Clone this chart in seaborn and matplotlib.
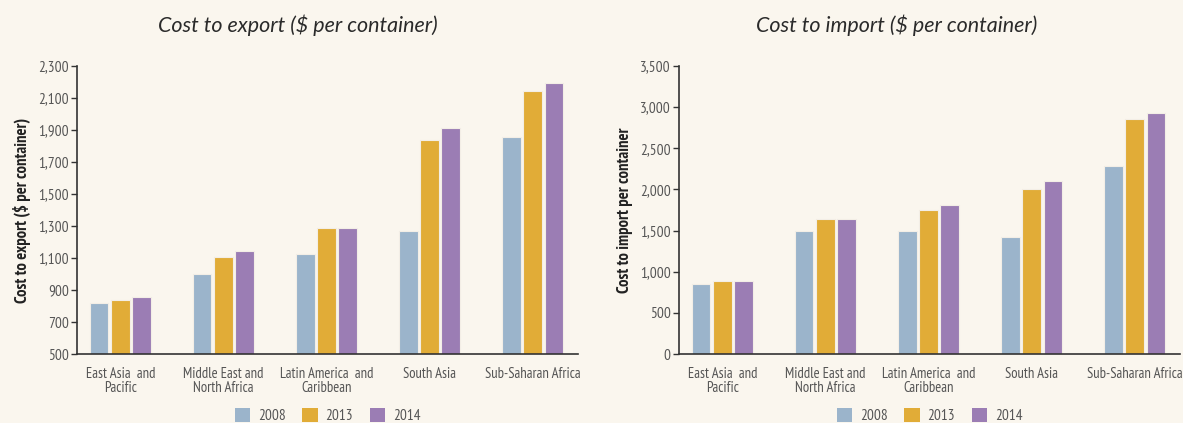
import matplotlib
matplotlib.use("Agg")
import matplotlib.pyplot as plt
import seaborn as sns
import pandas as pd
from matplotlib.ticker import FuncFormatter, FixedLocator
from matplotlib.font_manager import fontManager

regions = ["East Asia  and\nPacific", "Middle East and\nNorth Africa", "Latin America  and\nCaribbean",
           "South Asia", "Sub-Saharan Africa"]
years = ["2008", "2013", "2014"]
export_2008 = [820, 1000, 1125, 1268, 1857]
export_2013 = [840, 1105, 1285, 1840, 2144]
export_2014 = [856, 1141, 1285, 1911, 2196]
import_2008 = [850, 1495, 1495, 1425, 2282]
import_2013 = [890, 1640, 1745, 2000, 2857]
import_2014 = [890, 1640, 1817, 2104, 2929]
export_ticks = [500, 700, 900, 1100, 1300, 1500, 1700, 1900, 2100, 2300]
import_ticks = [0, 500, 1000, 1500, 2000, 2500, 3000, 3500]

def long_df(a, b, c):
    rows = []
    for vals, y in zip([a, b, c], years):
        for r, v in zip(regions, vals):
            rows.append({"region": r, "year": y, "value": v})
    return pd.DataFrame(rows)

exp_df = long_df(export_2008, export_2013, export_2014)
imp_df = long_df(import_2008, import_2013, import_2014)

sns.set_theme(style="white")
names = {f.name for f in fontManager.ttflist}
def pick(cands):
    for c in cands:
        if c in names:
            return c
    return "DejaVu Sans"
narrow = pick(["PT Sans Narrow", "Fira Sans Condensed", "Roboto Condensed", "Archivo Narrow",
               "Liberation Sans Narrow"])
title_font = pick(["Lato", "Open Sans"])
plt.rcParams["font.family"] = [narrow, "DejaVu Sans"]

bg = "#FAF6EE"
palette = {"2008": "#9BB4CB", "2013": "#E1AC37", "2014": "#9B7DB4"}
fig = plt.figure(figsize=(11.83, 4.23), dpi=100, facecolor=bg)

specs = [
    (exp_df, [0.0651, 0.163, 0.4235, 0.681], (500, 2300), export_ticks,
     "Cost to export ($ per container)", "Cost to export ($ per container)", 0.252),
    (imp_df, [0.574, 0.163, 0.4235, 0.681], (0, 3500), import_ticks,
     "Cost to import per container", "Cost to import ($ per container)", 0.758),
]

for df, rect, ylim, ticks, ylabel, title, tx in specs:
    ax = fig.add_axes(rect)
    ax.set_facecolor(bg)
    sns.barplot(data=df, x="region", y="value", hue="year", palette=palette, ax=ax,
                width=0.62, gap=0.12, saturation=1, edgecolor="#F3EEE6", linewidth=0.8,
                legend=True)
    ax.set_ylim(*ylim)
    ax.set_xlim(-0.42, 4.44)
    ax.yaxis.set_major_locator(FixedLocator(ticks))
    ax.yaxis.set_major_formatter(FuncFormatter(lambda v, p: f"{int(v):,}"))
    for s in ["top", "right"]:
        ax.spines[s].set_visible(False)
    for s in ["left", "bottom"]:
        ax.spines[s].set_color("#333333")
        ax.spines[s].set_linewidth(1.2)
    ax.tick_params(axis="y", left=True, length=4, width=1, color="#333333",
                   labelsize=11, labelcolor="#555555", pad=2)
    ax.tick_params(axis="x", bottom=False, labelsize=10.5, labelcolor="#555555", pad=3)
    for lab in ax.get_xticklabels():
        lab.set_linespacing(1.05)
    ax.set_xlabel("")
    ax.set_ylabel(ylabel, fontsize=12, fontweight="bold", color="#222222", labelpad=5)
    fig.text(tx, 0.94, title, ha="center", va="center", fontsize=15.5, style="italic",
             fontweight="normal", family=[title_font, "DejaVu Sans"], color="#2a2a2a")
    leg = ax.legend(loc="upper center", bbox_to_anchor=(0.5, -0.15), ncol=3, frameon=False,
                    fontsize=11, handlelength=1.0, handleheight=1.0, columnspacing=1.1,
                    handletextpad=0.5, labelcolor="#555555", borderpad=0.2)
    for h in leg.legend_handles:
        h.set_edgecolor("none")

fig.savefig("out.png", dpi=100, facecolor=bg)
